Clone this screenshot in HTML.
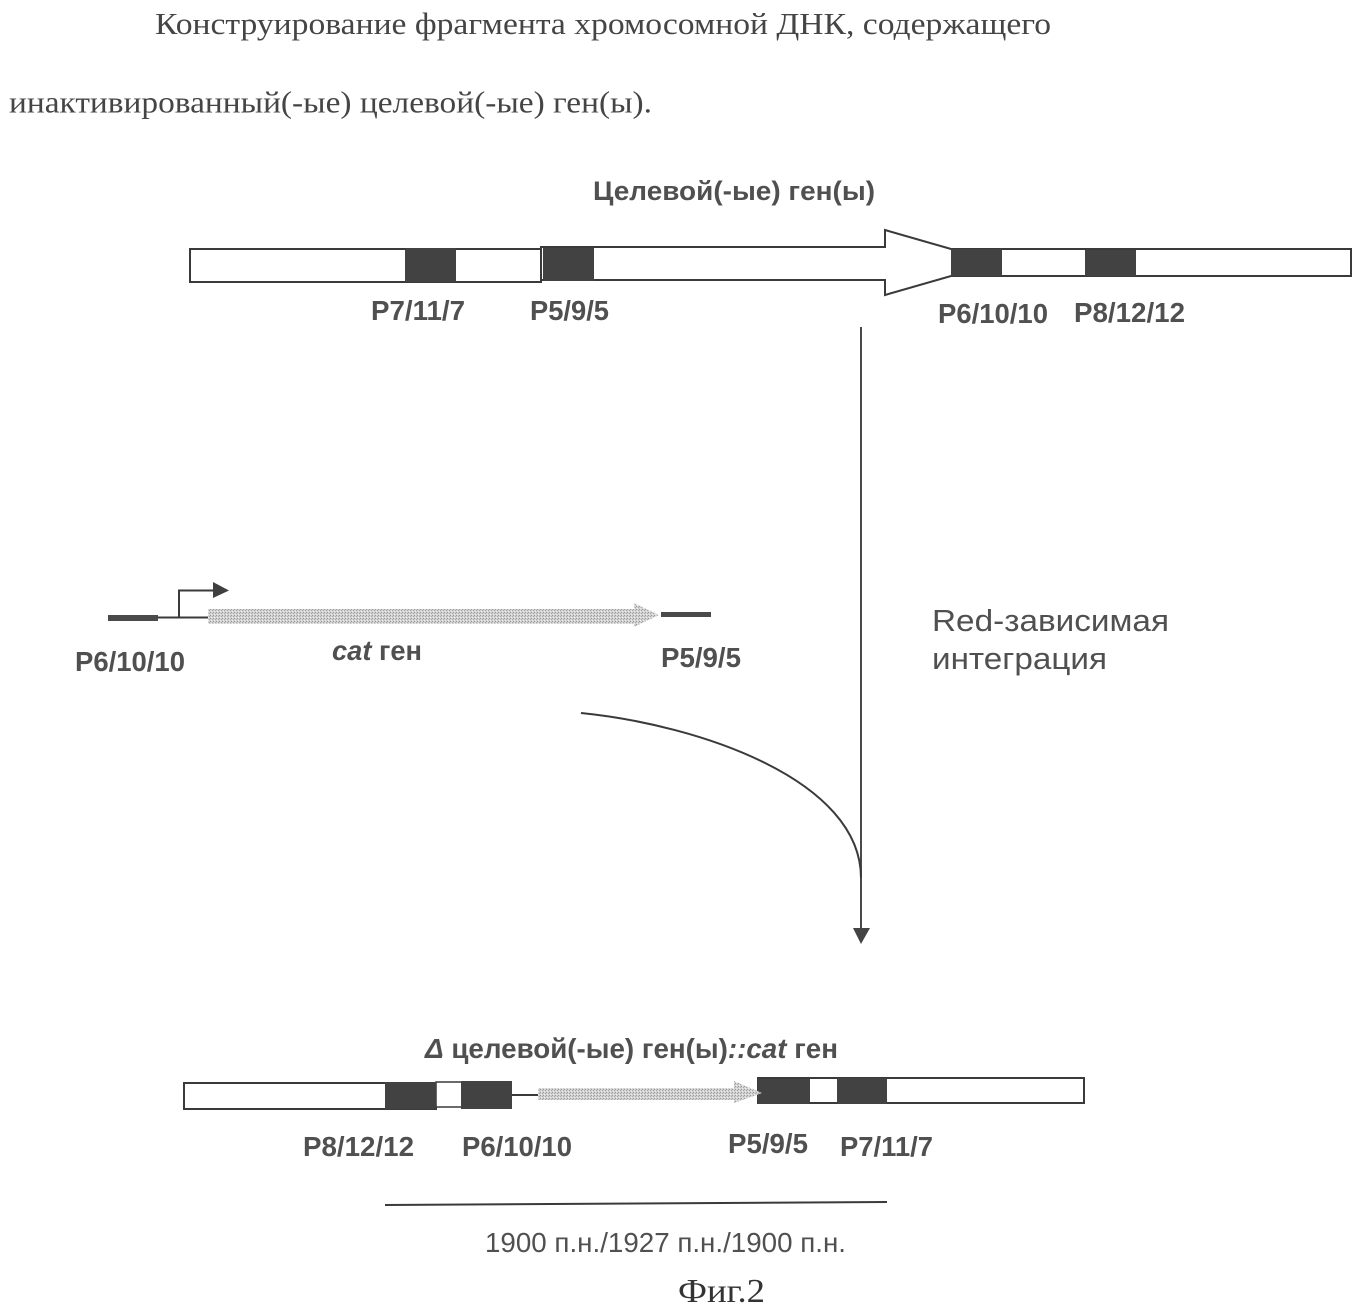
<!DOCTYPE html>
<html><head><meta charset="utf-8"><style>
html,body{margin:0;padding:0;background:#fff;width:1362px;height:1311px;overflow:hidden}
svg{display:block}
.s{font-family:"Liberation Serif",serif;fill:#454545;font-size:31px}
.b{font-family:"Liberation Sans",sans-serif;font-weight:bold;fill:#505050;font-size:28px}
.r{font-family:"Liberation Sans",sans-serif;fill:#505050}
</style></head><body>
<svg width="1362" height="1311" viewBox="0 0 1362 1311" xmlns="http://www.w3.org/2000/svg">
<defs>
<pattern id="d" width="3" height="3" patternUnits="userSpaceOnUse">
<rect width="3" height="3" fill="#d2d2d2"/>
<rect width="1" height="1" fill="#999"/>
<rect x="2" y="1" width="1" height="1" fill="#a8a8a8"/>
<rect x="1" y="2" width="1" height="1" fill="#eee"/>
</pattern>
</defs>
<rect width="1362" height="1311" fill="#fff"/>
<text class="s" x="155" y="34" textLength="896" lengthAdjust="spacingAndGlyphs">Конструирование фрагмента хромосомной ДНК, содержащего</text>
<text class="s" x="9" y="112.500" textLength="643" lengthAdjust="spacingAndGlyphs">инактивированный(-ые) целевой(-ые) ген(ы).</text>

<text class="b" x="593" y="200" style="font-size:27px" textLength="282" lengthAdjust="spacingAndGlyphs">Целевой(-ые) ген(ы)</text>

<g fill="#fff" stroke="#3a3a3a" stroke-width="2">
<rect x="190" y="249" width="351" height="33"/>
<path d="M541 247H885V230L951 249H1351V276H1001H951L885 295V280H541Z"/>
</g>
<g fill="#424242">
<rect x="405" y="248" width="51" height="34"/>
<rect x="543" y="248" width="51" height="33"/>
<rect x="951" y="249" width="51" height="27"/>
<rect x="1085" y="250" width="51" height="26"/>
</g>
<text class="b" x="371" y="320" textLength="94" lengthAdjust="spacingAndGlyphs">P7/11/7</text>
<text class="b" x="530" y="320" textLength="79" lengthAdjust="spacingAndGlyphs">P5/9/5</text>
<text class="b" x="938" y="323" textLength="110" lengthAdjust="spacingAndGlyphs">P6/10/10</text>
<text class="b" x="1074" y="322" textLength="111" lengthAdjust="spacingAndGlyphs">P8/12/12</text>

<path d="M861 327V930" stroke="#4a4a4a" stroke-width="2" fill="none"/>
<path d="M853 928H870L861 944Z" fill="#444"/>
<path d="M581 713C700 725 861 780 861 878" stroke="#3a3a3a" stroke-width="2" fill="none"/>

<text class="r" x="932" y="631" font-size="31" textLength="237" lengthAdjust="spacingAndGlyphs">Red-зависимая</text>
<text class="r" x="932" y="669" font-size="31" textLength="175" lengthAdjust="spacingAndGlyphs">интеграция</text>

<rect x="108" y="615" width="50" height="6" fill="#4a4a4a"/>
<path d="M158 617.500H208M179 617.500V590.500H216" stroke="#3a3a3a" stroke-width="2" fill="none"/>
<path d="M213 582L229 590.500L213 598Z" fill="#3f3f3f"/>
<path d="M208 609H634V603L659 615L634 627V624H208Z" fill="url(#d)"/>
<rect x="661" y="612" width="50" height="5" fill="#4a4a4a"/>
<text class="b" x="75" y="671" textLength="110" lengthAdjust="spacingAndGlyphs">P6/10/10</text>
<text class="b" x="332" y="660" textLength="90" lengthAdjust="spacingAndGlyphs"><tspan font-style="italic">cat</tspan> ген</text>
<text class="b" x="661" y="667" textLength="80" lengthAdjust="spacingAndGlyphs">P5/9/5</text>

<text class="b" x="425" y="1058" textLength="413" lengthAdjust="spacingAndGlyphs"><tspan font-style="italic">Δ</tspan> целевой(-ые) ген(ы)<tspan font-style="italic">::cat</tspan> ген</text>

<g fill="#fff" stroke="#3a3a3a" stroke-width="2">
<rect x="184" y="1083" width="252" height="26"/>
<rect x="436" y="1082" width="26" height="25" stroke-width="1.500"/>
<rect x="758" y="1078" width="326" height="25"/>
</g>
<g fill="#424242">
<rect x="385" y="1082" width="51" height="27"/>
<rect x="461" y="1081" width="51" height="28"/>
<rect x="758" y="1079" width="52" height="25"/>
<rect x="837" y="1078" width="50" height="26"/>
</g>
<path d="M512 1095H539" stroke="#3a3a3a" stroke-width="2"/>
<path d="M538 1088H734V1081L762 1093L734 1103V1100H538Z" fill="url(#d)"/>

<text class="b" x="303" y="1156" textLength="111" lengthAdjust="spacingAndGlyphs">P8/12/12</text>
<text class="b" x="462" y="1156" textLength="110" lengthAdjust="spacingAndGlyphs">P6/10/10</text>
<text class="b" x="728" y="1153" textLength="80" lengthAdjust="spacingAndGlyphs">P5/9/5</text>
<text class="b" x="840" y="1156" textLength="93" lengthAdjust="spacingAndGlyphs">P7/11/7</text>

<path d="M385 1205L887 1202" stroke="#3a3a3a" stroke-width="2" fill="none"/>
<text class="r" x="485" y="1252" font-size="28" textLength="361" lengthAdjust="spacingAndGlyphs">1900 п.н./1927 п.н./1900 п.н.</text>
<text x="678" y="1302" font-family="'Liberation Serif',serif" font-size="34" fill="#333" textLength="87" lengthAdjust="spacingAndGlyphs">Фиг.2</text>
</svg>
</body></html>
